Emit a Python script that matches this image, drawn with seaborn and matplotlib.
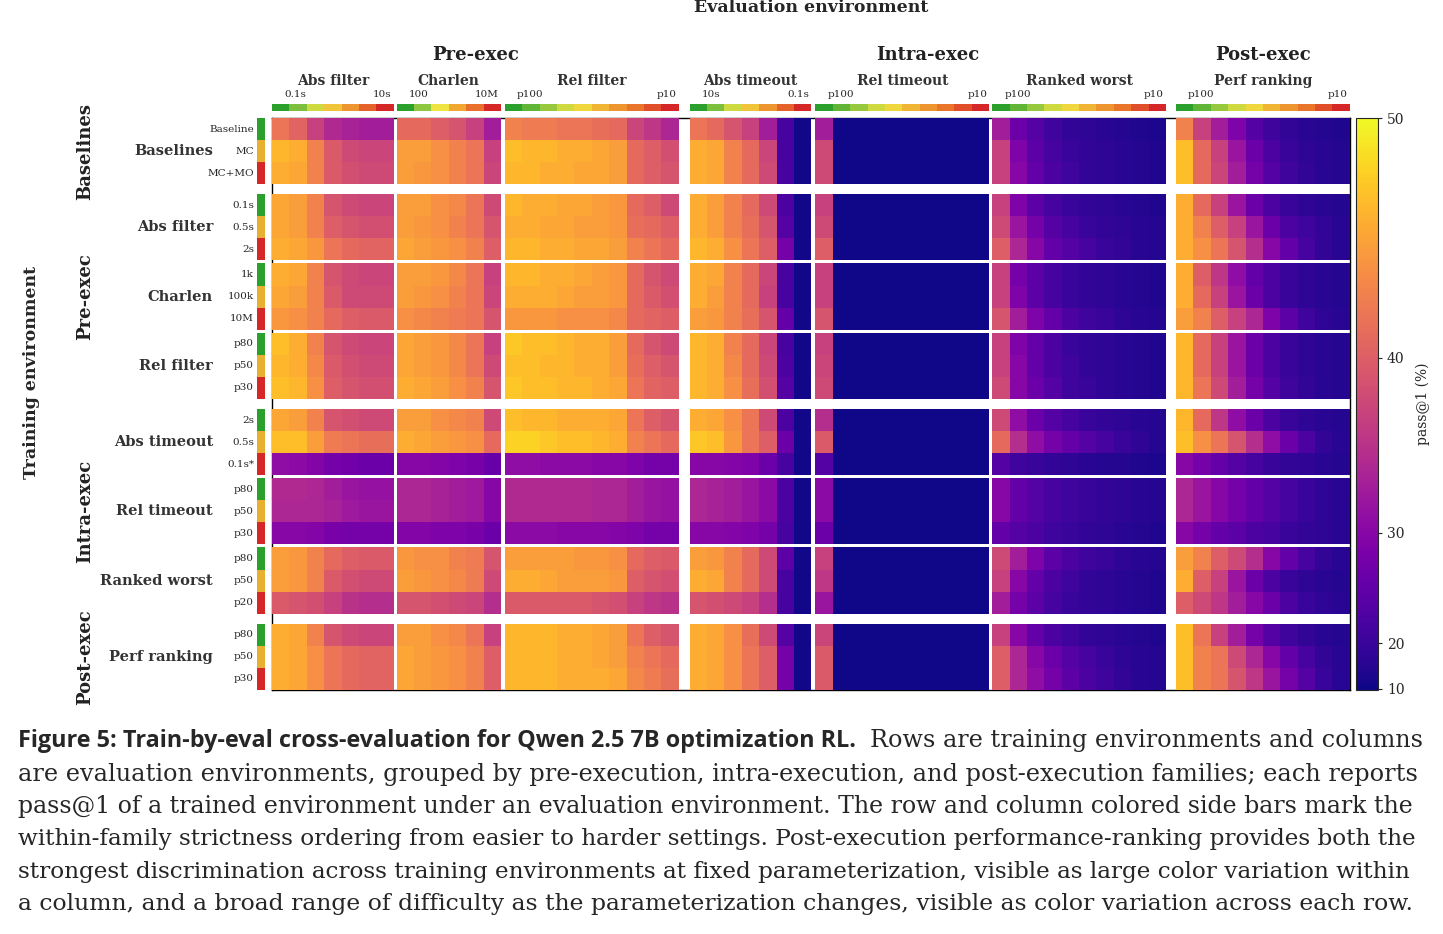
import numpy as np
import matplotlib
matplotlib.use("Agg")
import matplotlib.pyplot as plt
import seaborn as sns
from matplotlib.colors import PowerNorm, ListedColormap, LinearSegmentedColormap
from matplotlib.cm import ScalarMappable

sns.set_theme(style="white")
plt.rcParams['font.family'] = ['DejaVu Serif']

# ---------------- data ----------------
train_families = ["Baselines", "Pre-exec", "Intra-exec", "Post-exec"]
train_groups = ["Baselines", "Abs filter", "Charlen", "Rel filter",
                "Abs timeout", "Rel timeout", "Ranked worst", "Perf ranking"]
train_rows = [["Baseline", "MC", "MC+MO"], ["0.1s", "0.5s", "2s"], ["1k", "100k", "10M"],
              ["p80", "p50", "p30"], ["2s", "0.5s", "0.1s*"], ["p80", "p50", "p30"],
              ["p80", "p50", "p20"], ["p80", "p50", "p30"]]
eval_families = ["Pre-exec", "Intra-exec", "Post-exec"]
eval_groups = ["Abs filter", "Charlen", "Rel filter", "Abs timeout",
               "Rel timeout", "Ranked worst", "Perf ranking"]
eval_ends = [("0.1s", "10s"), ("100", "10M"), ("p100", "p10"), ("10s", "0.1s"),
             ("p100", "p10"), ("p100", "p10"), ("p100", "p10")]

abs_filter = [
    [42, 40.5, 37, 34.5, 33.5, 33, 33], [46.5, 46, 43, 39.5, 38, 37.5, 37.5], [46, 45.5, 43, 39.5, 38.5, 38, 38],
    [45.5, 45, 43, 39, 38, 37.5, 37.5], [45.5, 45, 43, 40, 39, 38.5, 38.5], [46, 45.5, 44.5, 42, 41, 40.5, 40.5],
    [46, 45.5, 43, 39, 38, 37.5, 37.5], [45.5, 45, 43, 39.5, 38, 38, 38], [44.5, 44, 43, 41, 40, 39.5, 39.5],
    [47, 46, 43, 39, 38, 37.5, 37.5], [46.5, 46, 43.5, 39.5, 38.5, 38, 38], [47, 46.5, 44, 40, 39, 38.5, 38.5],
    [45.5, 45, 43, 39, 38.5, 38, 38], [47, 47, 45, 42.5, 42, 41.5, 41.5], [31, 30.5, 29.5, 28, 27.5, 27, 27],
    [34.5, 34.5, 34, 33, 32, 31.5, 31.5], [34, 34, 34, 33.5, 32.5, 32, 32], [30, 30, 29.5, 28.5, 28, 28, 28],
    [45, 44.5, 43, 41, 40, 39.5, 39.5], [45, 44.5, 43, 39.5, 38.5, 38, 38], [39.5, 39, 38.5, 37, 35.5, 35, 35],
    [46, 45.5, 43, 39, 38, 37.5, 37.5], [46, 45.5, 44, 42, 41, 40.5, 40.5], [46, 45.5, 44, 42, 41, 40.5, 40.5]]
charlen = [
    [41, 41, 40, 39, 37, 33], [45, 45, 44, 43, 42, 37], [45, 44.5, 44, 43, 42, 37.5],
    [45, 45, 44, 43.5, 42, 38], [45, 44.5, 44, 43, 42, 39], [45.5, 45, 44.5, 44, 43, 40],
    [45, 45, 44.5, 43.5, 42, 37], [45, 44.5, 44, 43, 42, 37.5], [44, 43.5, 43, 42.5, 42, 39],
    [45.5, 45, 44.5, 43.5, 42, 37], [45.5, 45, 44.5, 43.5, 42, 38], [46, 45.5, 45, 44, 43, 39],
    [45, 45, 44, 43.5, 43, 38], [46, 45.5, 45, 44.5, 44, 41], [30, 30, 29.5, 29, 28.5, 26.5],
    [34, 34, 33.5, 33, 32.5, 30], [34, 34, 33.5, 33, 32.5, 30], [29.5, 29.5, 29, 29, 28.5, 27],
    [44.5, 44, 44, 43, 42.5, 39], [45, 44.5, 44, 43.5, 42.5, 38], [39, 39, 38.5, 38, 37.5, 35],
    [45, 45, 44, 43.5, 42, 37], [45.5, 45, 44.5, 44, 43, 40], [45.5, 45, 44.5, 44, 43, 40]]
rel_filter = [
    [43, 42.5, 42.5, 42, 42, 41.5, 41, 37.5, 36, 34], [47, 46.5, 46.5, 46, 46, 45.5, 45, 41, 40, 38.5],
    [46.5, 46.5, 46, 46, 45.5, 45.5, 45, 41, 40, 39],
    [46.5, 46, 46, 45.5, 45.5, 45, 44.5, 41, 40, 38], [46, 46, 45.5, 45.5, 45, 45, 44.5, 41.5, 41, 40],
    [46.5, 46.5, 46, 46, 45.5, 45.5, 45, 43, 42, 41],
    [46.5, 46.5, 46, 46, 45.5, 45, 44.5, 41, 39, 38], [46, 46, 46, 45.5, 45, 45, 44.5, 41, 39.5, 38.5],
    [44.5, 44.5, 44.5, 44, 44, 44, 43.5, 41, 40.5, 40],
    [47.5, 47, 47, 46.5, 46, 46, 45, 41, 39, 38], [47, 47, 46.5, 46.5, 46, 46, 45, 41.5, 40, 39],
    [47.5, 47, 47, 46.5, 46.5, 46, 45.5, 42, 40.5, 40],
    [47, 46.5, 46.5, 46, 46, 46, 45.5, 42, 40, 39], [48, 48, 47.5, 47, 47, 46.5, 46, 43, 42, 41],
    [31, 31, 30.5, 30.5, 30.5, 30, 30, 29, 28, 28],
    [34.5, 34.5, 34.5, 34.5, 34.5, 34, 34, 33, 32, 31.5], [34.5, 34.5, 34.5, 34.5, 34.5, 34, 34, 33, 32, 31.5],
    [30.5, 30.5, 30.5, 30, 30, 30, 29.5, 29, 28, 28],
    [45, 45, 45, 45, 44.5, 44.5, 44, 41, 40, 39.5], [46, 46, 45.5, 45, 45, 45, 44.5, 40, 39, 38.5],
    [39.5, 39.5, 39.5, 39.5, 39.5, 39, 38.5, 37, 36, 35.5],
    [46.5, 46.5, 46.5, 46, 46, 45.5, 45, 42, 40, 39], [46.5, 46.5, 46.5, 46, 46, 45.5, 45, 43, 42, 41],
    [46.5, 46.5, 46.5, 46, 46, 46, 45.5, 43.5, 42.5, 41.5]]
abs_timeout = [
    [42, 41, 39, 37, 33, 22, 12], [46, 45.5, 43, 41, 37.5, 22, 12], [46, 45.5, 43, 41, 38, 22, 12],
    [46, 45, 43, 41, 38, 23, 12], [46, 45, 43, 41.5, 39, 24, 12], [46.5, 46, 44, 42, 40, 28, 12],
    [46, 45.5, 43, 41, 37.5, 22, 12], [46, 45, 43, 41, 37, 22, 12], [45, 44.5, 43, 41.5, 39, 26, 12],
    [46.5, 46, 43, 41, 37.5, 22, 12], [46.5, 46, 43.5, 41, 38, 23, 12], [46.5, 46, 44, 41.5, 38.5, 24, 12],
    [46, 45.5, 44, 42, 38, 23, 12], [47.5, 47, 44.5, 42, 40, 27, 12], [30, 30, 29.5, 29, 27, 22, 12],
    [34, 33.5, 33, 32, 30.5, 23, 12], [34, 33.5, 33, 32, 30.5, 23, 12], [30, 30, 29.5, 29, 28, 22, 12],
    [45, 44.5, 43, 41, 38, 25, 12], [46, 45.5, 43, 41, 38, 22, 12], [39, 38.5, 38, 37, 35, 22, 12],
    [46, 45.5, 44, 41.5, 38, 24, 12], [46, 45.5, 44, 42, 40, 28, 12], [46, 45.5, 44, 42, 40, 28, 12]]
rel_timeout_first = [33, 38, 38, 37, 38, 40, 37, 37, 39, 37, 37.5, 38, 35, 39.5, 24,
                     30.5, 30.5, 27, 37, 36, 32, 37.5, 39.5, 39.5]
rel_timeout_rest = [11, 11, 11, 11, 11, 11, 11, 11, 11]
ranked_worst = [
    [33, 27, 24, 21, 19, 18, 17, 16, 15, 14], [37, 29, 25, 22, 20, 19, 18, 17, 16, 15],
    [37, 30, 26, 23, 21, 19, 18, 17, 16, 15],
    [37, 29, 25, 22, 20, 19, 18, 17, 16, 15], [38, 32, 28, 24, 22, 20, 19, 18, 17, 16],
    [40, 34, 30, 26, 24, 22, 20, 19, 17, 16],
    [37, 28, 25, 22, 20, 19, 18, 17, 16, 15], [37, 29, 25, 22, 20, 19, 18, 17, 16, 15],
    [39, 33, 29, 26, 23, 21, 20, 18, 17, 16],
    [37, 29, 26, 23, 20, 19, 18, 17, 16, 15], [37, 30, 26, 23, 21, 19, 18, 17, 16, 15],
    [38, 30, 27, 24, 21, 20, 18, 17, 16, 15],
    [38, 31, 27, 24, 22, 20, 19, 18, 17, 16], [41, 35, 31, 28, 26, 24, 22, 20, 18, 16],
    [24, 21, 20, 19, 18, 17, 16, 16, 15, 14],
    [30, 26, 24, 22, 21, 20, 19, 18, 17, 16], [30, 26, 24, 22, 21, 20, 19, 18, 17, 16],
    [26, 24, 23, 21, 20, 19, 18, 17, 16, 15],
    [38, 33, 29, 25, 23, 21, 20, 18, 17, 16], [37, 30, 26, 23, 21, 19, 18, 17, 16, 15],
    [33, 28, 25, 22, 20, 19, 18, 17, 16, 15],
    [37, 30, 26, 23, 21, 19, 18, 17, 16, 15], [40, 34, 30, 27, 24, 22, 20, 18, 17, 16],
    [40, 34, 31, 28, 25, 23, 21, 19, 17, 16]]
perf_ranking = [
    [43, 37, 33, 29, 24, 21, 19, 17, 16, 15], [47, 41, 37, 32, 27, 23, 20, 18, 17, 16],
    [47, 41, 37.5, 33, 28, 24, 21, 19, 17, 16],
    [46, 41, 37, 32, 27, 23, 20, 18, 17, 16], [46, 43, 40, 37, 32, 27, 23, 21, 19, 17],
    [46, 44, 42, 39, 35, 30, 26, 22, 19, 17],
    [46, 40, 36, 31, 26, 23, 20, 18, 17, 16], [46, 41, 37, 32, 27, 23, 20, 18, 17, 16],
    [45, 43, 40, 37, 34, 29, 25, 21, 18, 17],
    [46.5, 41, 37, 32, 27, 23, 20, 18, 17, 16], [46.5, 41, 37, 32, 27, 23, 20, 18, 17, 16],
    [46.5, 42, 38, 33, 28, 24, 21, 19, 17, 16],
    [46.5, 41, 36, 31, 27, 23, 20, 18, 17, 16], [47, 44, 42, 39, 35, 31, 27, 23, 19, 17],
    [30, 28, 26, 24, 22, 20, 19, 18, 17, 16],
    [34, 32, 30, 28, 26, 24, 22, 20, 18, 17], [34, 32, 30, 28, 26, 24, 22, 20, 18, 17],
    [30, 28, 26, 25, 23, 22, 20, 19, 18, 17],
    [45, 43, 40, 38, 35, 30, 26, 22, 19, 17], [46, 40, 37, 32, 27, 23, 20, 18, 17, 16],
    [40, 38, 36, 33, 30, 27, 23, 20, 18, 17],
    [47, 42, 37, 33, 28, 24, 21, 19, 17, 16], [47, 43, 42, 38, 34, 30, 26, 22, 19, 17],
    [47, 43, 42, 39, 36, 32, 28, 24, 20, 17]]

rel_timeout = [[f] + rel_timeout_rest for f in rel_timeout_first]
col_blocks = [abs_filter, charlen, rel_filter, abs_timeout, rel_timeout, ranked_worst, perf_ranking]

# ---------------- layout ----------------
W, H = 1443, 934
fig = plt.figure(figsize=(W / 100, H / 100), dpi=100)

def ax_px(x, y, w, h):
    return fig.add_axes([x / W, 1 - (y + h) / H, w / W, h / H])

cw, rh = 17.38, 22.08
x0, y0 = 272, 118
col_gaps = [3, 4, 11, 4, 3, 10]
row_gaps = [10, 3, 3, 10, 3, 3, 10]
col_sizes = [len(b[0]) for b in col_blocks]
xs = []
x = x0
for i, n in enumerate(col_sizes):
    xs.append(x)
    x += n * cw + (col_gaps[i] if i < len(col_gaps) else 0)
x_end = x
ys = []
y = y0
for i in range(8):
    ys.append(y)
    y += 3 * rh + (row_gaps[i] if i < len(row_gaps) else 0)
y_end = y

cmap = plt.get_cmap("plasma")
norm = PowerNorm(gamma=2.0, vmin=8, vmax=50)

frame = ax_px(x0, y0, x_end - x0, y_end - y0)
frame.set_xticks([]); frame.set_yticks([])
for s in frame.spines.values():
    s.set_visible(True); s.set_color("black"); s.set_linewidth(1)

for gi in range(8):
    for ci, block in enumerate(col_blocks):
        sub = np.array(block[gi * 3: gi * 3 + 3], dtype=float)
        ax = ax_px(xs[ci], ys[gi], col_sizes[ci] * cw, 3 * rh)
        sns.heatmap(sub, ax=ax, cmap=cmap, norm=norm, cbar=False,
                    xticklabels=False, yticklabels=False)

strip_cols = LinearSegmentedColormap.from_list(
    "strict", ["#2ca02c", "#8dc63f", "#f0e442", "#f0a830", "#e8702a", "#d62728"])
for ci, n in enumerate(col_sizes):
    ax = ax_px(xs[ci], 104, n * cw, 7)
    cols = [strip_cols(i / (n - 1)) for i in range(n)]
    sns.heatmap(np.arange(n)[None, :], ax=ax, cmap=ListedColormap(cols), cbar=False,
                xticklabels=False, yticklabels=False)
    fig.text((xs[ci] + 12) / W, 1 - 99 / H, eval_ends[ci][0], fontsize=7.5, ha="left", va="bottom")
    fig.text((xs[ci] + n * cw - 2) / W, 1 - 99 / H, eval_ends[ci][1], fontsize=7.5, ha="right", va="bottom")
    fig.text((xs[ci] + n * cw / 2) / W, 1 - 81 / H, eval_groups[ci], fontsize=10,
             fontweight="bold", color="#333333", ha="center", va="center")

side_cols = ListedColormap(["#2ca02c", "#e8b030", "#d62728"])
for gi in range(8):
    ax = ax_px(257, ys[gi], 8, 3 * rh)
    sns.heatmap(np.arange(3)[:, None], ax=ax, cmap=side_cols, cbar=False,
                xticklabels=False, yticklabels=False)
    for ri, lab in enumerate(train_rows[gi]):
        fig.text(254 / W, 1 - (ys[gi] + (ri + 0.5) * rh) / H, lab, fontsize=7.5,
                 ha="right", va="center")
    fig.text(213 / W, 1 - (ys[gi] + 1.5 * rh) / H, train_groups[gi], fontsize=10.5,
             fontweight="bold", color="#333333", ha="right", va="center")

fam_cols = [(xs[0], xs[2] + 10 * cw), (xs[3], xs[5] + 10 * cw), (xs[6], xs[6] + 10 * cw)]
for name, (a, b) in zip(eval_families, fam_cols):
    fig.text((a + b) / 2 / W, 1 - 55 / H, name, fontsize=13, fontweight="bold",
             color="#222222", ha="center", va="center")
fam_rows = [(ys[0], ys[0] + 3 * rh), (ys[1], ys[3] + 3 * rh), (ys[4], ys[6] + 3 * rh), (ys[7], ys[7] + 3 * rh)]
for name, (a, b) in zip(train_families, fam_rows):
    fig.text(85 / W, 1 - (a + b) / 2 / H, name, fontsize=13, fontweight="bold",
             color="#222222", rotation=90, ha="center", va="center")
fig.text((x0 + x_end) / 2 / W, 1 - 8 / H, "Evaluation environment", fontsize=12.5,
         fontweight="bold", ha="center", va="center")
fig.text(32 / W, 1 - 372 / H, "Training environment", fontsize=12.5,
         fontweight="bold", rotation=90, ha="center", va="center")

cax = ax_px(1356, y0, 22, y_end - y0)
cb = fig.colorbar(ScalarMappable(norm=norm, cmap=cmap), cax=cax)
cb.set_ticks([10, 20, 30, 40, 50])
cb.ax.tick_params(labelsize=10, length=3, width=0.8)
cb.outline.set_linewidth(0.8)
cb.set_label("pass@1 (%)", fontsize=10, labelpad=8)

# caption
cap_lines = [
    "are evaluation environments, grouped by pre-execution, intra-execution, and post-execution families; each reports",
    "pass@1 of a trained environment under an evaluation environment. The row and column colored side bars mark the",
    "within-family strictness ordering from easier to harder settings. Post-execution performance-ranking provides both the",
    "strongest discrimination across training environments at fixed parameterization, visible as large color variation within",
    "a column, and a broad range of difficulty as the parameterization changes, visible as color variation across each row.",
]
renderer = fig.canvas.get_renderer()

def fit_text(x, y, s, width, base, **kw):
    t = fig.text(x / W, 1 - y / H, s, fontsize=base, ha="left", va="center", **kw)
    w = t.get_window_extent(renderer).width
    t.set_fontsize(base * width / w)
    return t

fit_text(18, 741, "Figure 5: Train-by-eval cross-evaluation for Qwen 2.5 7B optimization RL.",
         842, 15, fontweight="bold", family=["Open Sans", "DejaVu Sans"])
fit_text(870, 741, "Rows are training environments and columns", 552, 15.5)
for i, line in enumerate(cap_lines[:-1]):
    fit_text(18, 774 + 32.6 * i, line, 1400, 15.5)
fit_text(18, 774 + 32.6 * 4, cap_lines[-1], 1398, 15.5)

fig.savefig("out.png", dpi=100)
